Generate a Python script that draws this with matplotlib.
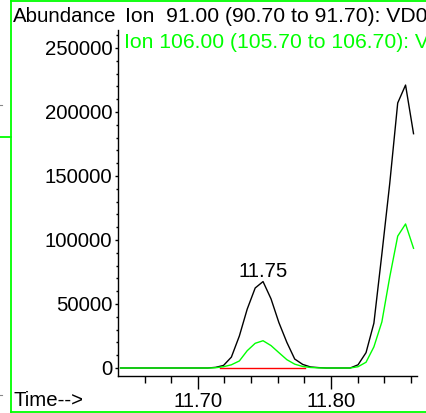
import matplotlib
matplotlib.use("Agg")
import matplotlib.pyplot as plt
from matplotlib.lines import Line2D
from matplotlib.ticker import MultipleLocator, FixedLocator

plt.rcParams['font.family'] = ['Liberation Sans', 'DejaVu Sans']

# Retention times (min)
times = [11.6419, 11.6479, 11.6538, 11.6598, 11.6657, 11.6717, 11.6776, 11.6836,
         11.6895, 11.6955, 11.7014, 11.7074, 11.7133, 11.7193, 11.7252, 11.7312,
         11.7371, 11.7431, 11.7490, 11.7550, 11.7609, 11.7669, 11.7728, 11.7788,
         11.7847, 11.7907, 11.7966, 11.8026, 11.8085, 11.8145, 11.8204, 11.8264,
         11.8323, 11.8383, 11.8442, 11.8502, 11.8561, 11.8621]

# Ion 91 abundance
ion91 = [0, 0, 0, 0, 0, 0, 0, 0,
         0, 0, 0, 0, 500, 2000, 8500, 25000,
         46000, 62500, 67500, 54000, 35500, 20000, 7000, 2800,
         800, 300, 0, 0, 0, 0, 2500, 12000,
         35000, 89000, 144000, 207000, 221000, 183000]

# Ion 106 abundance
ion106 = [0, 0, 0, 0, 0, 0, 0, 0,
          0, 0, 0, 0, 200, 1000, 2500, 5500,
          13500, 19300, 21300, 17500, 12000, 6500, 3000, 1200,
          400, 100, 0, 0, 0, 0, 1000, 4500,
          16500, 36000, 71000, 103000, 112500, 93500]

# Integration baseline of the labelled peak
base_t = [11.7165, 11.7805]
base_y = [0, 0]

peak_label = "11.75"
peak_t = 11.7489
peak_label_y = 71300

header91 = "Ion  91.00 (90.70 to 91.70): VD0"
header106 = "Ion 106.00 (105.70 to 106.70): VD0"

W, H = 426, 413
fig = plt.figure(figsize=(W / 100, H / 100), dpi=100)
ax = fig.add_axes([118 / W, 1 - 376 / H, (417 - 118) / W, (376 - 30) / H])

GREEN = '#00ff00'
FS = 14.7
FS_HEAD = 15.2

ax.plot(times, ion91, color='black', lw=1.0, zorder=3)
ax.plot(times, ion106, color=GREEN, lw=1.0, zorder=4)
ax.plot(base_t, base_y, color='red', lw=1.0, zorder=2)

ax.set_xlim(11.640, 11.8647)
ax.set_ylim(-6250, 264000)

for s in ['top', 'right']:
    ax.spines[s].set_visible(False)
ax.spines['left'].set_linewidth(1.0)
ax.spines['bottom'].set_linewidth(1.0)

ax.xaxis.set_major_locator(FixedLocator([11.70, 11.80]))
ax.xaxis.set_minor_locator(FixedLocator([11.66, 11.68, 11.72, 11.74, 11.76, 11.78,
                                         11.82, 11.84, 11.86]))
ax.set_xticklabels(["11.70", "11.80"])
ax.yaxis.set_minor_locator(MultipleLocator(10000))
ax.set_yticks([0, 50000, 100000, 150000, 200000, 250000])
ax.set_yticklabels(["0", "50000", "100000", "150000", "200000", "250000"])

ax.tick_params(axis='x', which='major', direction='out', length=9, width=1.0,
               labelsize=FS, pad=2.5)
ax.tick_params(axis='x', which='minor', direction='out', length=5, width=1.0)
ax.tick_params(axis='y', which='major', direction='out', length=2.5, width=1.0,
               labelsize=FS, pad=1.5)
ax.tick_params(axis='y', which='minor', direction='out', length=1.5, width=1.0)

ax.text(peak_t, peak_label_y, peak_label, ha='center', va='baseline',
        fontsize=FS, color='black')

# Header texts (in figure pixel coordinates)
def fx(px):
    return px / W

def fy(py):
    return 1 - py / H

fig.text(fx(12.5), fy(21.7), "Abundance", fontsize=FS, va='baseline', ha='left')
fig.text(fx(125), fy(21.7), header91, fontsize=FS_HEAD, va='baseline', ha='left',
         color='black')
fig.text(fx(124), fy(47.5), header106, fontsize=FS_HEAD, va='baseline', ha='left',
         color=GREEN)
fig.text(fx(13), fy(406), "Time-->", fontsize=FS, va='baseline', ha='left')

# Green frame lines
lw_frame = 1.3
fig.add_artist(Line2D([fx(11), fx(11)], [fy(0), fy(413)], color=GREEN, lw=lw_frame))
fig.add_artist(Line2D([fx(11), fx(426)], [fy(1), fy(1)], color=GREEN, lw=lw_frame))
fig.add_artist(Line2D([fx(11), fx(426)], [fy(411.5), fy(411.5)], color=GREEN, lw=lw_frame))
fig.add_artist(Line2D([fx(0), fx(11)], [fy(137), fy(137)], color=GREEN, lw=lw_frame))
# small grey marks at the left edge
fig.add_artist(Line2D([fx(0), fx(2)], [fy(105), fy(105)], color='#888888', lw=0.8))
fig.add_artist(Line2D([fx(0), fx(2)], [fy(395), fy(395)], color='#888888', lw=0.8))

fig.savefig("out.png", dpi=100)
